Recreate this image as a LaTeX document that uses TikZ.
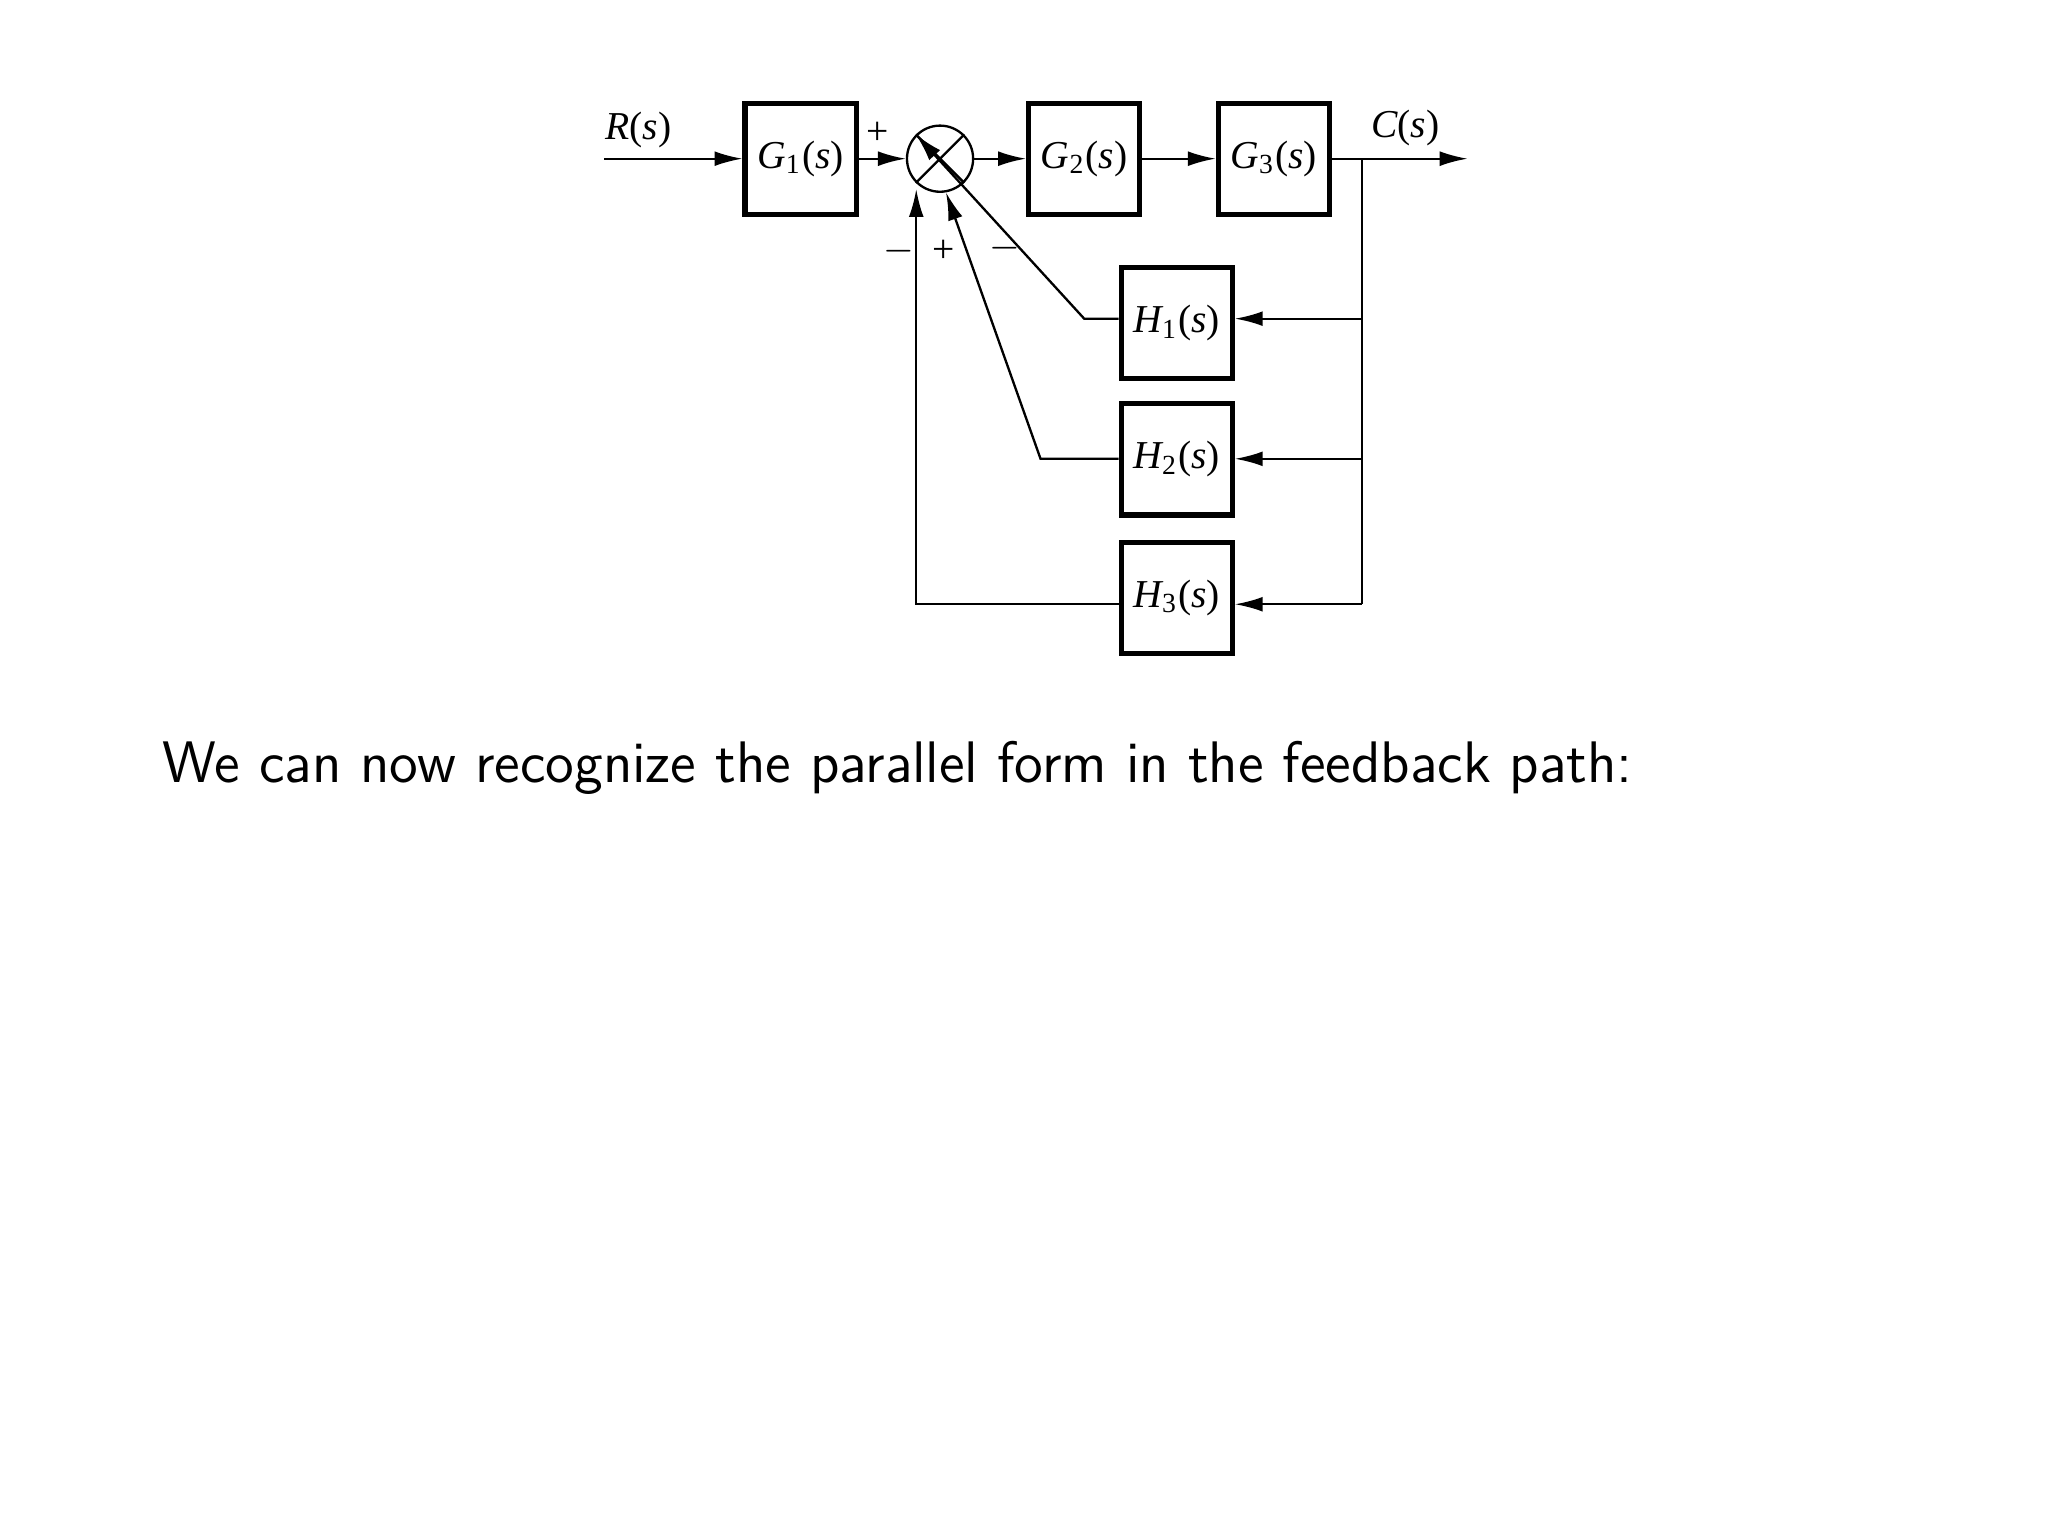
\documentclass[tikz,border=0pt]{standalone}
\usepackage{fontspec}
\newfontfamily\tms{Liberation Serif}
\usetikzlibrary{arrows.meta}
\newcommand\tf[2]{{\tms\itshape #1\textsubscript{\upshape #2}\upshape(\itshape s\upshape)}}
\begin{document}
\begin{tikzpicture}[x=0.01cm,y=-0.01cm,
  blk/.style={draw,line width=1.1pt,minimum width=0.84cm,minimum height=0.84cm,inner sep=0pt,font=\fontsize{8.5}{9}\selectfont},
  ln/.style={line width=0.5pt},
  ar/.style={ln,-{Latex[length=6pt,width=3.2pt]}},
  lab/.style={font=\fontsize{8.5}{9}\selectfont\tms}]
\useasboundingbox (0,0) rectangle (1549,1162);
\node[blk] (g1) at (605.5,120) {\tf{G}{1}};
\node[blk] (g2) at (820,120) {\tf{G}{2}};
\node[blk] (g3) at (963.5,120) {\tf{G}{3}};
\node[blk] (h1) at (890,244.5) {\tf{H}{1}};
\node[blk] (h2) at (890,347.5) {\tf{H}{2}};
\node[blk] (h3) at (890,452) {\tf{H}{3}};
\node[draw,circle,ln,minimum size=0.5cm,inner sep=0pt] (s) at (711,120) {};
\draw[ln] (s.north west) -- (s.south east) (s.north east) -- (s.south west);
\coordinate (in) at (457,120);
\coordinate (out) at (1110,120);
\coordinate (br) at (1030,120);
\node[lab] (r) at (483,98) {\itshape R\upshape(\itshape s\upshape)};
\node[lab] (c) at (1063,97) {\itshape C\upshape(\itshape s\upshape)};
\draw[ar] (in) -- (g1);
\draw[ar] (g1) -- (s);
\draw[ar] (s) -- (g2);
\draw[ar] (g2) -- (g3);
\draw[ar] (g3) -- (out);
\draw[ln] (br) -- (1030,457);
\draw[ar] (1030,241) -- (h1.east|-0,241);
\draw[ar] (1030,347) -- (h2.east|-0,347);
\draw[ar] (1030,457) -- (h3.east|-0,457);
\draw[ar] (h1.west|-0,241) -- (820,241) -- (s.-45+90+90);
\draw[ar] (h2.west|-0,347) -- (787,347) -- (s.-80);
\draw[ar] (h3.west|-0,457) -- (693,457) -- (693,143);
\node[lab] at (664,101) {+};
\node[lab] at (680,190) {$-$};
\node[lab] at (714,190) {+};
\node[lab] at (760,188) {$-$};
\node[anchor=base west,inner sep=0pt,font=\sffamily\fontsize{12.6}{14}\selectfont] (t) at (122,592) {We can now recognize the parallel form in the feedback path:};
\end{tikzpicture}
\end{document}
